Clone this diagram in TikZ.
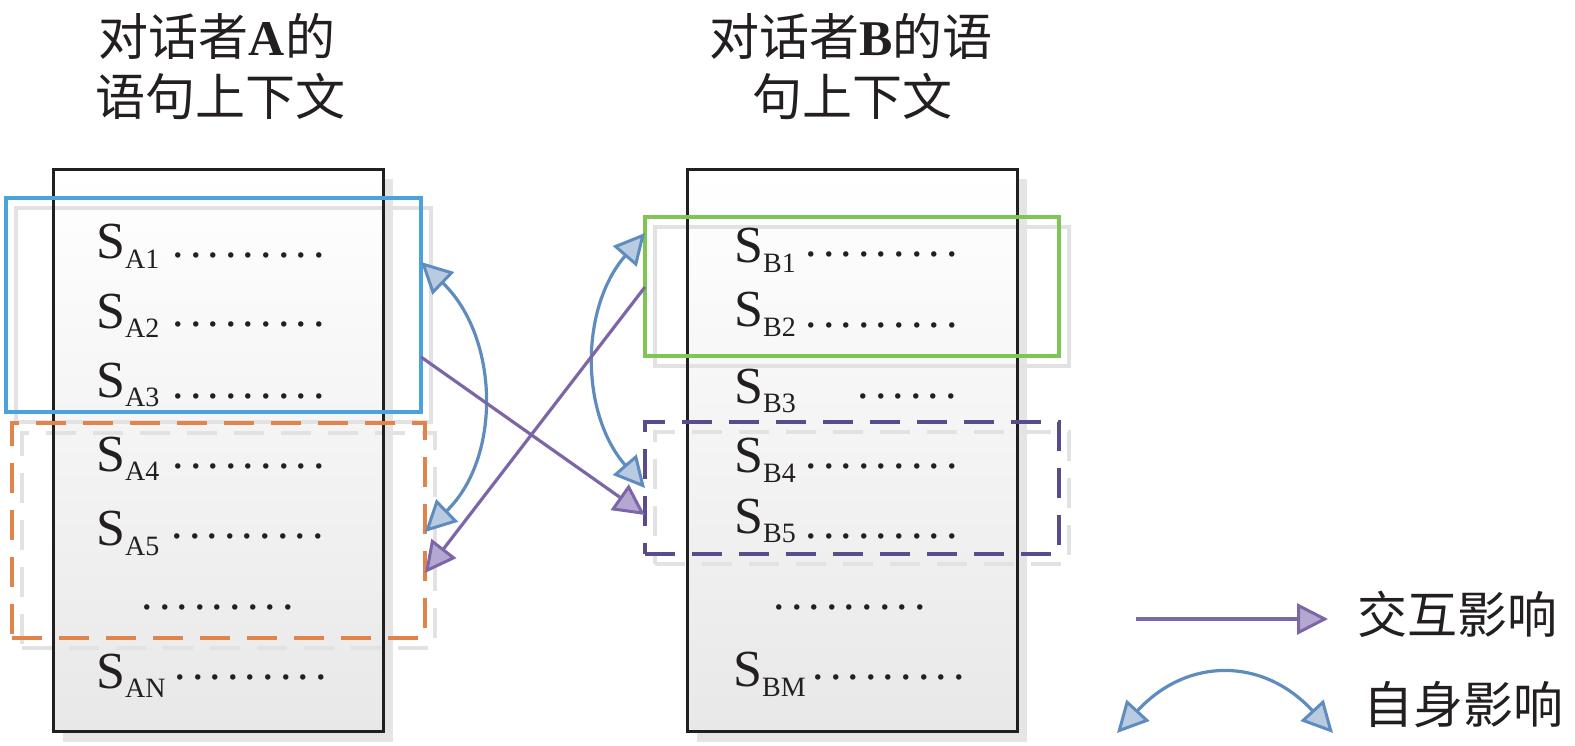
\documentclass[tikz,border=0pt]{standalone}
\usepackage{fontspec}
\setmainfont{Liberation Serif}
\newfontfamily\cjk{Noto Sans CJK SC}
\usetikzlibrary{arrows.meta,shadows}
\definecolor{frameblue}{RGB}{74,163,220}
\definecolor{frameorange}{RGB}{225,132,76}
\definecolor{framegreen}{RGB}{126,197,86}
\definecolor{framepurple}{RGB}{90,76,140}
\definecolor{arrblue}{RGB}{94,140,190}
\definecolor{arrpurple}{RGB}{124,102,168}
\definecolor{tipblue}{RGB}{184,203,224}
\definecolor{tippurple}{RGB}{180,168,210}
\definecolor{shadegray}{RGB}{226,226,226}
\definecolor{ink}{RGB}{35,31,32}
\newcommand\dk{.\kern6.1pt}
\newcommand\ninedots{\dk\dk\dk\dk\dk\dk\dk\dk\dk}
\newcommand\sixdots{\dk\dk\dk\dk\dk\dk}
\newcommand\subtxt[1]{\raisebox{-9.5pt}{\fontsize{28}{28}\selectfont #1}}
\tikzset{
  ctx/.style={draw=ink, line width=3pt, top color=white, bottom color=black!9,
    minimum width=330pt, minimum height=562pt, inner sep=0pt, outer sep=0pt,
    general shadow={fill=black!10, shadow xshift=10pt, shadow yshift=-10pt}},
  frame/.style={line width=4pt, inner sep=0pt, outer sep=0pt},
  frameshadow/.style={frame, draw=shadegray},
  dashedframe/.style={dash pattern=on 30pt off 17pt},
  sl/.style={anchor=base west, inner sep=0pt, text=ink, font=\fontsize{52}{52}\selectfont},
  dl/.style={anchor=base west, inner sep=0pt, text=ink, xshift=-5.75pt, yshift=-2.3pt, font=\fontsize{46}{46}\selectfont},
  ttl/.style={anchor=base, inner sep=0pt, text=ink, font=\fontsize{50}{50}\selectfont},
  ptip/.tip={Triangle[length=31pt,width=31pt,fill=tippurple,line width=3pt]},
  btip/.tip={Triangle[length=31pt,width=31pt,fill=tipblue,line width=3pt]},
  interact/.style={draw=arrpurple, line width=3.2pt, -ptip},
  selfinf/.style={draw=arrblue, line width=3.2pt, btip-btip},
}
\begin{document}
\begin{tikzpicture}[x=1pt,y=-1pt]
\useasboundingbox (0,0) rectangle (1575,746);

% titles
\node[ttl] (tA1) at (217,56) {{\cjk 对话者}\textbf{A}{\cjk 的}};
\node[ttl] (tA2) at (220,116) {\cjk 语句上下文};
\node[ttl] (tB1) at (851,56) {{\cjk 对话者}\textbf{B}{\cjk 的语}};
\node[ttl] (tB2) at (852,116) {\cjk 句上下文};

% context boxes
\node[ctx] (boxA) at (218,450.5) {};
\node[ctx] (boxB) at (852,450.5) {};

% frame shadows
\node[frameshadow, minimum width=415pt, minimum height=214pt] (fAs) at (223.5,315) {};
\node[frameshadow, dashedframe, minimum width=413pt, minimum height=215pt] (fOs) at (228.5,540.5) {};
\node[frameshadow, minimum width=414pt, minimum height=139pt] (fGs) at (862,296.5) {};
\node[frameshadow, dashedframe, minimum width=414pt, minimum height=132pt] (fPs) at (862,498) {};
% redraw box outlines above the shadows
\draw[ink, line width=3pt] (boxA.north west) rectangle (boxA.south east);
\draw[ink, line width=3pt] (boxB.north west) rectangle (boxB.south east);

% frames
\node[frame, draw=frameblue, minimum width=415pt, minimum height=214pt] (fA) at (213.5,305) {};
\node[frame, draw=frameorange, dashedframe, minimum width=413pt, minimum height=215pt] (fO) at (218.5,530.5) {};
\node[frame, draw=framegreen, minimum width=414pt, minimum height=139pt] (fG) at (852,286.5) {};
\node[frame, draw=framepurple, dashedframe, minimum width=414pt, minimum height=132pt] (fP) at (852,488) {};

% rows of A
\node[sl] (sA1) at (96,259) {S\subtxt{A1}};
\node[dl] (dA1) at (178,255) {\ninedots};
\node[sl] (sA2) at (96,328) {S\subtxt{A2}};
\node[dl] (dA2) at (178,324.3) {\ninedots};
\node[sl] (sA3) at (96,397) {S\subtxt{A3}};
\node[dl] (dA3) at (178,395.7) {\ninedots};
\node[sl] (sA4) at (96,471) {S\subtxt{A4}};
\node[dl] (dA4) at (178,465.7) {\ninedots};
\node[sl] (sA5) at (96,545.7) {S\subtxt{A5}};
\node[dl] (dA5) at (177,535.7) {\ninedots};
\node[dl] (dA6) at (147,606.7) {\ninedots};
\node[sl] (sAN) at (96,688) {S\subtxt{AN}};
\node[dl] (dAN) at (180,676.7) {\ninedots};

% rows of B
\node[sl] (sB1) at (734,262.7) {S\subtxt{B1}};
\node[dl] (dB1) at (811,254.3) {\ninedots};
\node[sl] (sB2) at (734,326.7) {S\subtxt{B2}};
\node[dl] (dB2) at (811,325) {\ninedots};
\node[sl] (sB3) at (734,403) {S\subtxt{B3}};
\node[dl] (dB3) at (863,395.7) {\sixdots};
\node[sl] (sB4) at (734,472.7) {S\subtxt{B4}};
\node[dl] (dB4) at (811,465.7) {\ninedots};
\node[sl] (sB5) at (734,533) {S\subtxt{B5}};
\node[dl] (dB5) at (811,535.7) {\ninedots};
\node[dl] (dB6) at (779,606.7) {\ninedots};
\node[sl] (sBM) at (733,686.7) {S\subtxt{BM}};
\node[dl] (dBM) at (818,676.7) {\ninedots};

% connector end points on the frames
\coordinate (c1) at (fA.east |- 0,262);
\coordinate (c2) at (fO.east |- 0,532);
\coordinate (p1s) at (fA.east |- 0,357);
\coordinate (p1e) at (fP.west |- 0,515);
\coordinate (p2s) at (fG.west |- 0,287);
\coordinate (p2e) at (fO.east |- 0,573);
\coordinate (c3) at (fG.west |- 0,233);
\coordinate (c4) at (fP.west |- 0,488);

\draw[selfinf] (c2) .. controls (502,457) and (499,337) .. (c1);
\draw[selfinf] (c4) .. controls (580,413) and (580,308) .. (c3);
\draw[interact] (p1s) -- (p1e);
\draw[interact] (p2s) -- (p2e);

% legend
\node[ttl] (lg1) at (1457.5,633) {\cjk 交互影响};
\node[ttl] (lg2) at (1463.5,723) {\cjk 自身影响};
\coordinate (l1s) at (1136,619);
\coordinate (l1e) at (1328,619);
\coordinate (l2a) at (1117,733);
\coordinate (l2b) at (1333,733);
\draw[interact] (l1s) -- (l1e);
\draw[selfinf] (l2a) .. controls (1187,657) and (1263,657) .. (l2b);
\end{tikzpicture}
\end{document}
